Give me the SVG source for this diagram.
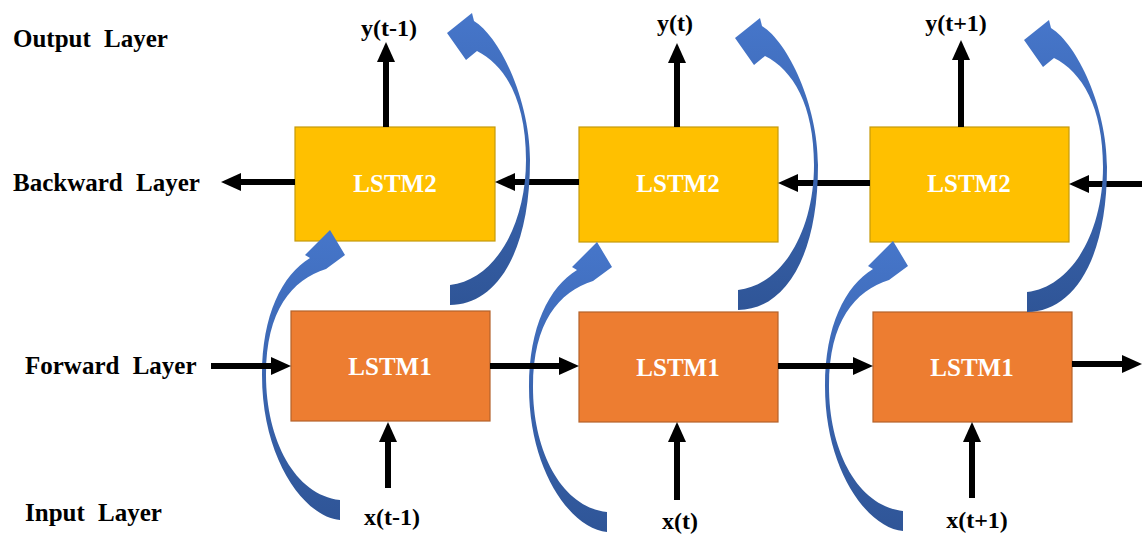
<svg xmlns="http://www.w3.org/2000/svg" width="1142" height="536" viewBox="0 0 1142 536">
<defs>
<style>
.lbl{font-family:"Liberation Serif","Times New Roman",serif;font-weight:bold;font-size:25px;fill:#000;word-spacing:7px}
.io{font-family:"Liberation Serif","Times New Roman",serif;font-weight:bold;font-size:24px;fill:#000;text-anchor:middle}
.boxt{font-family:"Liberation Serif","Times New Roman",serif;font-weight:bold;font-size:25px;fill:#fff;text-anchor:middle}
.l2{fill:#FFC000;stroke:#C59A0A;stroke-width:1.2}
.l1{fill:#ED7D31;stroke:#B4622A;stroke-width:1.2}
.arr{stroke:#000;stroke-width:6;fill:none;marker-end:url(#ah)}
.curve{fill:url(#bg)}
</style>
<marker id="ah" markerUnits="userSpaceOnUse" markerWidth="20" markerHeight="18" viewBox="0 0 20 18" refX="10" refY="9" orient="auto">
<path d="M0,0 L20,9 L0,18 z" fill="#000"/>
</marker>
<linearGradient id="bg" x1="0" y1="0" x2="0" y2="1">
<stop offset="0" stop-color="#4676CA"/>
<stop offset="1" stop-color="#2F5597"/>
</linearGradient>
</defs>
<rect width="1142" height="536" fill="#fff"/>

<g id="layer-labels">
<text class="lbl" x="13" y="47">Output Layer</text>
<text class="lbl" x="13" y="191">Backward Layer</text>
<text class="lbl" x="25" y="374">Forward Layer</text>
<text class="lbl" x="25" y="521">Input Layer</text>
</g>

<g id="lstm2-1"><rect class="l2" x="295" y="127" width="200" height="114"/><text class="boxt" x="395" y="192">LSTM2</text></g>
<g id="lstm2-2"><rect class="l2" x="579" y="127" width="199" height="115"/><text class="boxt" x="678" y="192">LSTM2</text></g>
<g id="lstm2-3"><rect class="l2" x="870" y="127" width="199" height="115"/><text class="boxt" x="969" y="192">LSTM2</text></g>
<g id="lstm1-1"><rect class="l1" x="291" y="311" width="199" height="110"/><text class="boxt" x="390" y="375">LSTM1</text></g>
<g id="lstm1-2"><rect class="l1" x="579" y="312" width="199" height="110"/><text class="boxt" x="678" y="376">LSTM1</text></g>
<g id="lstm1-3"><rect class="l1" x="873" y="312" width="199" height="110"/><text class="boxt" x="972" y="376">LSTM1</text></g>

<g id="y-tm1"><text class="io" x="389" y="36">y(t-1)</text></g>
<g id="y-t"><text class="io" x="675" y="31">y(t)</text></g>
<g id="y-tp1"><text class="io" x="956" y="31">y(t+1)</text></g>
<g id="x-tm1"><text class="io" x="392" y="525">x(t-1)</text></g>
<g id="x-t"><text class="io" x="680" y="529">x(t)</text></g>
<g id="x-tp1"><text class="io" x="977" y="528">x(t+1)</text></g>

<g id="connectors">
<g id="forward-to-backward-curves">
<path class="curve" d="M340,520 C305,517 262,460 262,375 C262,315 282,275 310,258 L305,255 L330,230 L345,255 L326,269 C292,280 266,310 266,375 C266,440 295,495 340,500 Z"/>
<path class="curve" d="M607,532 C572,529 529,472 529,387 C529,327 549,287 577,270 L572,267 L597,242 L612,267 L593,281 C559,292 533,322 533,387 C533,452 562,507 607,512 Z"/>
<path class="curve" d="M903,531 C868,528 825,471 825,386 C825,326 845,286 873,269 L868,266 L893,241 L908,266 L889,280 C855,291 829,321 829,386 C829,451 858,506 903,511 Z"/>
</g>
<g id="black-arrows">
<line class="arr" x1="386" y1="127" x2="386" y2="52"/>
<line class="arr" x1="677" y1="127" x2="677" y2="53"/>
<line class="arr" x1="961" y1="127" x2="961" y2="50"/>
<line class="arr" x1="388" y1="488" x2="388" y2="432"/>
<line class="arr" x1="677" y1="500" x2="677" y2="432"/>
<line class="arr" x1="972" y1="498" x2="972" y2="432"/>
<line class="arr" x1="295" y1="182" x2="231" y2="182"/>
<line class="arr" x1="579" y1="182" x2="505" y2="182"/>
<line class="arr" x1="870" y1="183" x2="788" y2="183"/>
<line class="arr" x1="1142" y1="184" x2="1079" y2="184"/>
<line class="arr" x1="211" y1="366" x2="281" y2="366"/>
<line class="arr" x1="490" y1="366" x2="569" y2="366"/>
<line class="arr" x1="778" y1="366" x2="863" y2="366"/>
<line class="arr" x1="1072" y1="364" x2="1132" y2="364"/>
</g>
<g id="backward-to-output-curves">
<path class="curve" d="M450,305 C495,305 530,255 530,160 C530,100 500,37 474,21 L472,13 L447,33 L466,60 L477,51 C505,65 526,100 526,160 C526,225 495,280 450,285 Z"/>
<path class="curve" d="M738,310 C783,310 818,260 818,165 C818,105 788,42 762,26 L760,18 L735,38 L754,65 L765,56 C793,70 814,105 814,165 C814,230 783,285 738,290 Z"/>
<path class="curve" d="M1027,312 C1072,312 1107,262 1107,167 C1107,107 1077,44 1051,28 L1049,20 L1024,40 L1043,67 L1054,58 C1082,72 1103,107 1103,167 C1103,232 1072,287 1027,292 Z"/>
</g>
</g>
</svg>
